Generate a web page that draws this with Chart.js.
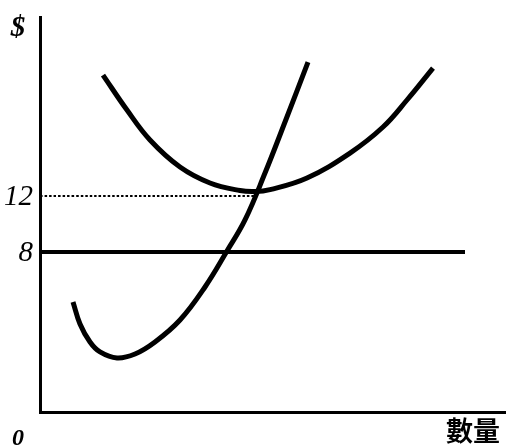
<!DOCTYPE html>
<html><head><meta charset="utf-8">
<script src="https://cdn.jsdelivr.net/npm/chart.js@4"></script>
<style>html,body{margin:0;padding:0;background:#fff}#c{display:block}</style>
</head><body>
<canvas id="c" width="515" height="448"></canvas>
<script>
// Quantity axis in schematic units, price axis in $
const atcX = [63, 87, 110, 140, 170, 200, 215, 230, 267, 310, 343, 367, 393];
const atcY = [20.64, 18.14, 16.0, 14.07, 12.93, 12.39, 12.32, 12.46, 13.29, 15.07, 16.93, 18.86, 21.14];
const mcX = [33, 40, 50, 60, 77, 95, 115, 140, 165, 187, 205, 225, 245, 268];
const mcY = [4.43, 2.86, 1.57, 0.86, 0.43, 0.71, 1.57, 3.14, 5.5, 8.07, 10.29, 13.64, 17.29, 21.57];
const priceX = [0, 425];
const priceY = [8, 8];
const refX = [0, 217];
const refY = [12, 12];
const yTickValues = [12, 8];
const yTickLabels = ['12', '8'];
const originLabel = '0';
const yAxisLabel = '$';
const xAxisLabel = '數量';

const pts = (xs, ys) => xs.map((x, i) => ({x, y: ys[i]}));

const labelPlugin = {
  id: 'labels',
  afterDraw(chart) {
    const ctx = chart.ctx, xs = chart.scales.x, ys = chart.scales.y;
    ctx.save();
    ctx.fillStyle = '#000';
    ctx.textBaseline = 'middle';
    ctx.textAlign = 'center';
    ctx.font = 'bold italic 29px "Liberation Serif"';
    ctx.fillText(yAxisLabel, xs.left - 22, ys.top + 12);
    ctx.font = 'italic 29px "Liberation Serif"';
    ctx.textAlign = 'right';
    yTickValues.forEach((v, i) => ctx.fillText(yTickLabels[i], xs.left - 7, ys.getPixelForValue(v) + 1));
    ctx.textAlign = 'center';
    ctx.font = 'bold italic 24px "Liberation Serif"';
    ctx.fillText(originLabel, xs.left - 22, ys.bottom + 27);
    ctx.font = 'bold 27px "Noto Sans CJK TC"';
    ctx.fillText(xAxisLabel, xs.right - 32, ys.bottom + 19);
    ctx.restore();
  }
};

const lineDs = (data, w, dash) => ({
  data, showLine: true, borderColor: '#000', borderWidth: w, pointRadius: 0,
  tension: 0.4, fill: false,
  borderDash: dash || [], borderCapStyle: 'butt'
});

new Chart(document.getElementById('c'), {
  type: 'scatter',
  data: {
    datasets: [
      lineDs(pts(atcX, atcY), 5),
      lineDs(pts(mcX, mcY), 5),
      lineDs(pts(priceX, priceY), 4),
      lineDs(pts(refX, refY), 2, [2.5, 2])
    ]
  },
  options: {
    responsive: false,
    animation: false,
    layout: {padding: {left: 40, top: 17, right: 10, bottom: 36}},
    plugins: {legend: {display: false}, tooltip: {enabled: false}},
    scales: {
      x: {
        type: 'linear', min: 0, max: 465,
        grid: {display: false, drawTicks: false},
        border: {display: true, color: '#000', width: 3},
        ticks: {display: false}
      },
      y: {
        type: 'linear', min: -3.43, max: 24.79,
        grid: {display: false, drawTicks: false},
        border: {display: true, color: '#000', width: 3},
        ticks: {display: false}
      }
    }
  },
  plugins: [labelPlugin]
});
</script>
</body></html>
